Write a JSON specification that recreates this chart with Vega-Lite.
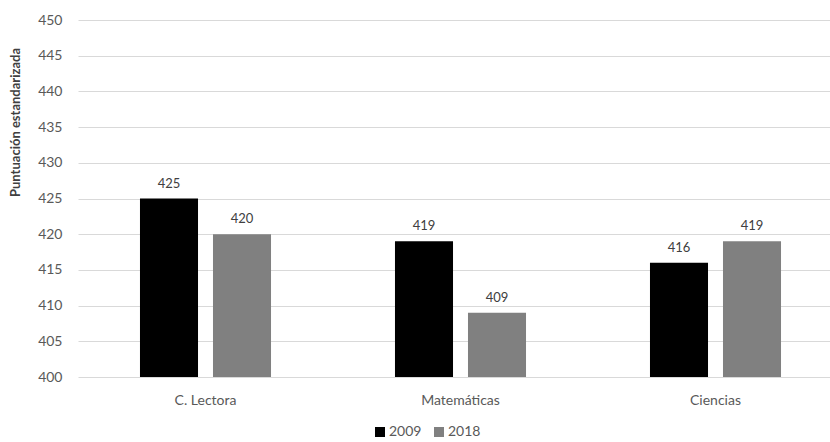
{
  "$schema": "https://vega.github.io/schema/vega-lite/v6.json",
  "autosize": {"type": "none"},
  "width": 742,
  "height": 357,
  "padding": {"left": 78, "top": 20, "right": 10, "bottom": 65},
  "background": "white",
  "config": {
    "font": "Lato",
    "view": {"stroke": null}
  },
  "data": {
    "values": [
      {"area": "C. Lectora", "year": "2009", "score": 425},
      {"area": "C. Lectora", "year": "2018", "score": 420},
      {"area": "Matemáticas", "year": "2009", "score": 419},
      {"area": "Matemáticas", "year": "2018", "score": 409},
      {"area": "Ciencias", "year": "2009", "score": 416},
      {"area": "Ciencias", "year": "2018", "score": 419}
    ]
  },
  "encoding": {
    "x": {
      "field": "area", "type": "nominal", "sort": null,
      "scale": {"paddingInner": 0, "paddingOuter": 0, "range": [0, 765]},
      "axis": {
        "title": null, "labelAngle": 0, "ticks": false, "domain": false,
        "labelColor": "#595959",
        "labelFontSize": 14, "labelPadding": 16
      }
    },
    "xOffset": {
      "field": "year", "type": "nominal",
      "scale": {"paddingInner": 0.205, "paddingOuter": 0.849}
    },
    "y": {
      "field": "score", "type": "quantitative",
      "scale": {"domain": [400, 450], "zero": false, "nice": false},
      "axis": {
        "title": "Puntuación estandarizada",
        "titleFontSize": 13, "titleFontWeight": "bold", "titleColor": "#404040",
        "titleX": -63, "titleY": 102, "titleAlign": "center", "titleBaseline": "middle",
        "values": [400, 405, 410, 415, 420, 425, 430, 435, 440, 445, 450],
        "domain": false, "ticks": false,
        "gridColor": "#d9d9d9", "labelColor": "#595959",
        "labelFontSize": 14, "labelPadding": 16
      }
    }
  },
  "layer": [
    {
      "mark": {"type": "bar", "clip": true},
      "encoding": {
        "color": {
          "field": "year", "type": "nominal",
          "scale": {"domain": ["2009", "2018"], "range": ["#000000", "#808080"]},
          "legend": {
            "title": null, "orient": "none", "direction": "horizontal",
            "legendX": 295, "legendY": 405,
            "symbolType": "square", "symbolSize": 100, "symbolStrokeWidth": 0,
            "labelFontSize": 14, "labelColor": "#595959", "labelOffset": 2,
            "columnPadding": 10
          }
        }
      }
    },
    {
      "mark": {"type": "text", "dy": -15, "fontSize": 13, "color": "#404040"},
      "encoding": {"text": {"field": "score", "type": "quantitative"}}
    }
  ]
}
